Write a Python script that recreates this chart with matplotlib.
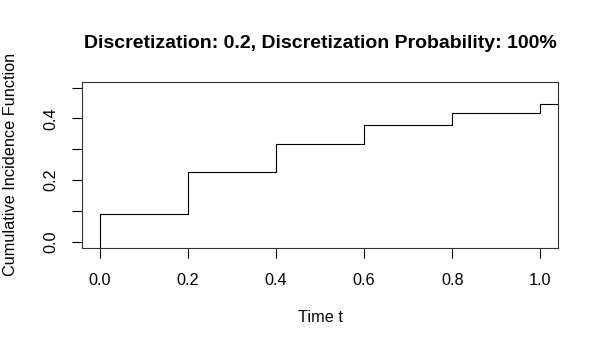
import matplotlib
matplotlib.use("Agg")
import matplotlib.pyplot as plt

# Data
times = [0.0, 0.2, 0.4, 0.6, 0.8, 1.0]
cif = [0.090, 0.226, 0.317, 0.378, 0.418, 0.448]
x_ticks = [0.0, 0.2, 0.4, 0.6, 0.8, 1.0]
x_tick_labels = ["0.0", "0.2", "0.4", "0.6", "0.8", "1.0"]
y_ticks = [0.0, 0.1, 0.2, 0.3, 0.4, 0.5]
y_tick_labels = ["0.0", "", "0.2", "", "0.4", ""]
title = "Discretization: 0.2, Discretization Probability: 100%"
xlabel = "Time t"
ylabel = "Cumulative Incidence Function"

plt.rcParams['font.family'] = ['Liberation Sans', 'DejaVu Sans']

W, H = 600, 350
fig = plt.figure(figsize=(6, 3.5), dpi=100)
ax = fig.add_axes([82 / W, 1 - 247.7 / H, (558 - 82) / W, (247.7 - 81.5) / H])

ax.set_xlim(-0.04, 1.04)
ax.set_ylim(-0.02, 0.52)

x0, x1 = ax.get_xlim()
y0, y1 = ax.get_ylim()

ax.step(times + [x1], cif + [cif[-1]], where='post', color='black', lw=0.8)
ax.vlines(times[0], y0, cif[0], color='black', lw=0.8)

for s in ax.spines.values():
    s.set_linewidth(0.8)
    s.set_color('#333333')

ax.set_xticks(x_ticks)
ax.set_xticklabels(x_tick_labels)
ax.set_yticks(y_ticks)
ax.set_yticklabels(y_tick_labels, rotation=90, va='center')
ax.tick_params(axis='both', length=7.2, width=0.8, labelsize=11.7, colors='black')
ax.tick_params(axis='x', pad=11)
ax.tick_params(axis='y', pad=10)

fig.text(320 / W, 1 - 43 / H, title, ha='center', va='center',
         fontsize=14, fontweight='bold')
fig.text(320 / W, 1 - 318 / H, xlabel, ha='center', va='center', fontsize=11.7)
fig.text(11 / W, 1 - 164.6 / H, ylabel, ha='center', va='center',
         rotation=90, fontsize=11.7)

fig.savefig("out.png", dpi=100)
